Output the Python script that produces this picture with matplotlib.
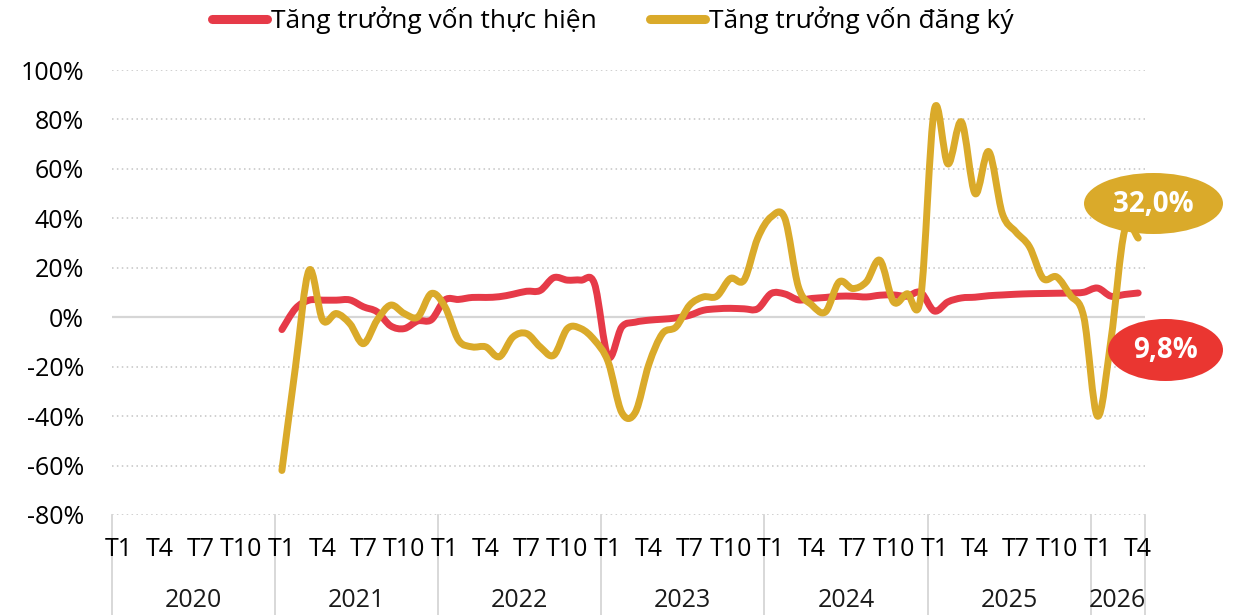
import matplotlib.pyplot as plt
import matplotlib.transforms as mtransforms
from matplotlib.patches import Ellipse, PathPatch
from matplotlib.path import Path
from matplotlib.lines import Line2D
import numpy as np

plt.rcParams['font.family'] = ['Open Sans', 'DejaVu Sans']

years = ['2020', '2021', '2022', '2023', '2024', '2025', '2026']
months_in_year = [12, 12, 12, 12, 12, 12, 4]
month_names = ['T1', 'T4', 'T7', 'T10']

# both series start at T1/2021 (month index 12)
first_month = 12

thuc_hien = [
    -5.0, 3.5, 6.9, 6.9, 6.9, 7.0, 4.2, 2.2, -3.5, -4.6, -1.5, -1.0,
    7.0, 7.2, 8.0, 8.0, 8.3, 9.3, 10.5, 10.8, 16.0, 15.0, 15.0, 13.5,
    -16.0, -4.0, -2.0, -1.2, -0.8, -0.3, 0.8, 2.8, 3.4, 3.6, 3.4, 3.4,
    9.6, 9.4, 7.0, 7.6, 8.0, 8.5, 8.5, 8.2, 8.9, 9.0, 8.5, 10.0,
    2.5, 6.2, 7.8, 8.1, 8.7, 9.0, 9.3, 9.5, 9.6, 9.7, 9.8, 10.1,
    11.8, 8.5, 9.2, 9.8,
]

dang_ky = [
    -62.0, -20.0, 19.0, -1.2, 1.5, -2.6, -10.7, -1.2, 4.9, 1.5, 0.1, 9.6,
    4.2, -9.3, -12.0, -12.0, -16.0, -8.0, -6.6, -12.0, -15.4, -4.6, -4.6, -9.3,
    -18.0, -38.5, -38.5, -19.0, -6.6, -3.9, 4.9, 8.2, 8.5, 15.7, 15.0, 31.9,
    40.6, 40.0, 12.3, 4.9, 2.2, 14.3, 11.6, 14.3, 23.0, 6.2, 9.5, 8.0,
    84.0, 62.0, 79.0, 50.0, 67.0, 42.0, 34.5, 28.5, 15.7, 16.3, 8.9, 0.0,
    -40.0, -9.0, 35.0, 32.0,
]

yticks = [-80, -60, -40, -20, 0, 20, 40, 60, 80, 100]
label_thuc_hien = '9,8%'
label_dang_ky = '32,0%'

RED = '#E63A48'
GOLD = '#DAAA2A'
RED_BUBBLE = '#EA3631'


def smooth_path(xs, ys):
    # Excel-style smoothed line: cubic Bezier with Catmull-Rom tangents
    pts = np.column_stack([xs, ys]).astype(float)
    n = len(pts)
    verts = [pts[0]]
    codes = [Path.MOVETO]
    for k in range(n - 1):
        p0 = pts[k - 1] if k > 0 else pts[k]
        p1 = pts[k]
        p2 = pts[k + 1]
        p3 = pts[k + 2] if k + 2 < n else pts[k + 1]
        verts += [p1 + (p2 - p0) / 6, p2 - (p3 - p1) / 6, p2]
        codes += [Path.CURVE4] * 3
    return Path(verts, codes)


n_months = sum(months_in_year)

fig = plt.figure(figsize=(12.34, 6.15), dpi=100)
ax = fig.add_axes([112 / 1234, 1 - 515 / 615, 1033 / 1234, 445 / 615])

ax.set_xlim(-0.5, n_months - 0.5)
ax.set_ylim(-80, 100)

# grid
for v in yticks:
    if v == 0:
        ax.axhline(0, color='#D6D6D6', lw=1.6, zorder=1)
    else:
        ax.axhline(v, color='#C4C4C4', lw=1.1, ls=(0, (1, 2.2)), zorder=1)

x_th = np.arange(first_month, first_month + len(thuc_hien))
x_dk = np.arange(first_month, first_month + len(dang_ky))

ax.add_patch(PathPatch(smooth_path(x_th, thuc_hien), facecolor='none', edgecolor=RED,
                       lw=5, capstyle='round', joinstyle='round', zorder=3))
ax.add_patch(PathPatch(smooth_path(x_dk, dang_ky), facecolor='none', edgecolor=GOLD,
                       lw=5, capstyle='round', joinstyle='round', zorder=4))

# axes styling
for s in ax.spines.values():
    s.set_visible(False)
ax.set_yticks(yticks)
ax.set_yticklabels([f'{v}%' for v in yticks])
ax.tick_params(axis='y', length=0, pad=20, labelsize=18)

tick_pos = []
tick_lab = []
m0 = 0
for cnt in months_in_year:
    for j in range(0, cnt, 3):
        tick_pos.append(m0 + j)
        tick_lab.append(month_names[j // 3])
    m0 += cnt
ax.set_xticks(tick_pos)
ax.set_xticklabels(tick_lab)
ax.tick_params(axis='x', length=0, pad=16, labelsize=18)

# year labels and separators below the axis
trans = mtransforms.blended_transform_factory(ax.transData, ax.transAxes)
m0 = 0
bounds = [-0.5]
for yr, cnt in zip(years, months_in_year):
    ax.text(m0 + cnt / 2 - 0.5, -0.193, yr, transform=trans, ha='center', va='center',
            fontsize=18, color='#1A1A1A')
    m0 += cnt
    bounds.append(m0 - 0.5)
for b in bounds:
    ax.plot([b, b], [0, -0.23], transform=trans, color='#D6D6D6', lw=1.3,
            clip_on=False, zorder=1)

# end-value callouts
fig.patches.append(Ellipse((1153.5 / 1234, 1 - 203.5 / 615), 139 / 1234, 61 / 615,
                           transform=fig.transFigure, facecolor=GOLD, edgecolor='none',
                           zorder=10))
fig.patches.append(Ellipse((1165.5 / 1234, 1 - 350 / 615), 115 / 1234, 62 / 615,
                           transform=fig.transFigure, facecolor=RED_BUBBLE, edgecolor='none',
                           zorder=10))
fig.text(1153.5 / 1234, 1 - 204 / 615, label_dang_ky, ha='center', va='center',
         color='white', fontsize=20, fontweight='bold', zorder=11)
fig.text(1165.5 / 1234, 1 - 350 / 615, label_thuc_hien, ha='center', va='center',
         color='white', fontsize=20, fontweight='bold', zorder=11)

# legend
handles = [Line2D([], [], color=RED, lw=6.5, solid_capstyle='round'),
           Line2D([], [], color=GOLD, lw=6.5, solid_capstyle='round')]
fig.legend(handles, ['Tăng trưởng vốn thực hiện', 'Tăng trưởng vốn đăng ký'],
           loc='center', bbox_to_anchor=(613 / 1234, 1 - 20 / 615), ncol=2,
           frameon=False, fontsize=19, handlelength=2.1, handletextpad=0.15,
           columnspacing=2.0, borderaxespad=0, borderpad=0)

fig.savefig('out.png', dpi=100)
